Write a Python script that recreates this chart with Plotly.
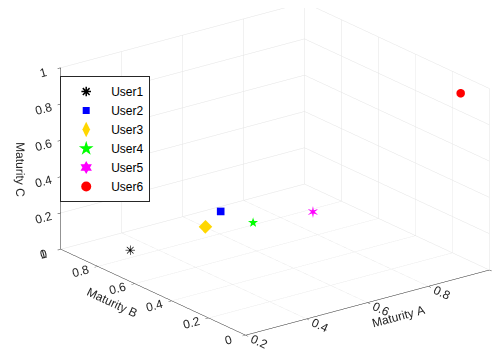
import plotly.graph_objects as go

users = ["User1", "User2", "User3", "User4", "User5", "User6"]
maturity_a = [0.30, 0.50, 0.48, 0.60, 0.73, 0.96]
maturity_b = [0.79, 0.63, 0.68, 0.62, 0.51, 0.09]
maturity_c = [0.05, 0.25, 0.15, 0.15, 0.20, 0.95]
colors = ["#000000", "#0000FF", "#FFD700", "#00FF00", "#FF00FF", "#FF0000"]

a_ticks = [0.2, 0.4, 0.6, 0.8, 1.0]
a_labels = ["0.2", "0.4", "0.6", "0.8", "1"]
bc_ticks = [0, 0.2, 0.4, 0.6, 0.8, 1.0]
bc_labels = ["0", "0.2", "0.4", "0.6", "0.8", "1"]

# marker styles: (3d kind, 3d symbol/text, 3d size, legend symbol, legend size)
styles = [
    ("text", "✳", 13, "asterisk-open", 8),
    ("marker", "square", 4, "square", 7),
    ("marker", "diamond", 4.5, "diamond-tall", 11),
    ("text", "★", 13, "star", 11),
    ("text", "✶", 16, "hexagram", 10),
    ("marker", "circle", 5, "circle", 10),
]

fig = go.Figure()
for i, u in enumerate(users):
    kind, sym, size, lsym, lsize = styles[i]
    if kind == "marker":
        fig.add_trace(go.Scatter3d(
            x=[maturity_a[i]], y=[maturity_b[i]], z=[maturity_c[i]],
            mode="markers", name=u, showlegend=False,
            marker=dict(symbol=sym, size=size, color=colors[i], line=dict(width=0)),
        ))
    else:
        fig.add_trace(go.Scatter3d(
            x=[maturity_a[i]], y=[maturity_b[i]], z=[maturity_c[i]],
            mode="text", text=[sym], name=u, showlegend=False,
            textposition="middle center",
            textfont=dict(size=size, color=colors[i], family="DejaVu Sans"),
        ))
    # legend entry
    fig.add_trace(go.Scatter(
        x=[None], y=[None], mode="markers", name=u,
        marker=dict(symbol=lsym, size=lsize, color=colors[i],
                    line=dict(width=1.5 if lsym == "asterisk-open" else 0, color=colors[i])),
    ))

axis_common = dict(
    showbackground=False,
    gridcolor="#e3e3e3",
    gridwidth=1,
    showline=True,
    linecolor="#262626",
    linewidth=1,
    zeroline=False,
    ticks="outside",
    tickcolor="#262626",
    ticklen=4,
    tickfont=dict(family="Liberation Sans, Arial", size=12, color="#262626"),
    showspikes=False,
)

d = 1.25
cen = (-0.072, 0.054, -0.108)
eye = (cen[0] - 0.5655 * d, cen[1] - 0.7457 * d, cen[2] + 0.3527 * d)
k = 1.709

fig.update_layout(
    width=502, height=358,
    margin=dict(l=0, r=0, t=0, b=0),
    paper_bgcolor="white",
    plot_bgcolor="rgba(0,0,0,0)",
    font=dict(family="Liberation Sans, Arial", size=11, color="#262626"),
    xaxis=dict(visible=False),
    yaxis=dict(visible=False),
    scene=dict(
        domain=dict(x=[0.0, 1.0], y=[0.0, 1.0]),
        aspectmode="manual",
        aspectratio=dict(x=k, y=k, z=0.634 * k),
        camera=dict(eye=dict(x=eye[0], y=eye[1], z=eye[2]),
                    up=dict(x=0, y=0, z=1),
                    center=dict(x=cen[0], y=cen[1], z=cen[2]),
                    projection=dict(type="orthographic")),
        xaxis=dict(axis_common, range=[0.2, 1.0], tickvals=a_ticks, ticktext=a_labels,
                   title=dict(text="Maturity A", font=dict(size=12))),
        yaxis=dict(axis_common, range=[0, 1.0], tickvals=bc_ticks, ticktext=bc_labels,
                   title=dict(text="Maturity B", font=dict(size=12))),
        zaxis=dict(axis_common, range=[0, 1.0], tickvals=bc_ticks, ticktext=bc_labels,
                   title=dict(text="Maturity C", font=dict(size=12))),
    ),
    showlegend=True,
    legend=dict(
        x=0.104, y=0.81, xanchor="left", yanchor="top",
        bgcolor="white", bordercolor="#262626", borderwidth=1,
        font=dict(family="Liberation Sans, Arial", size=12, color="#000000"),
        itemwidth=40,
    ),
)

fig.write_html("out.html")
